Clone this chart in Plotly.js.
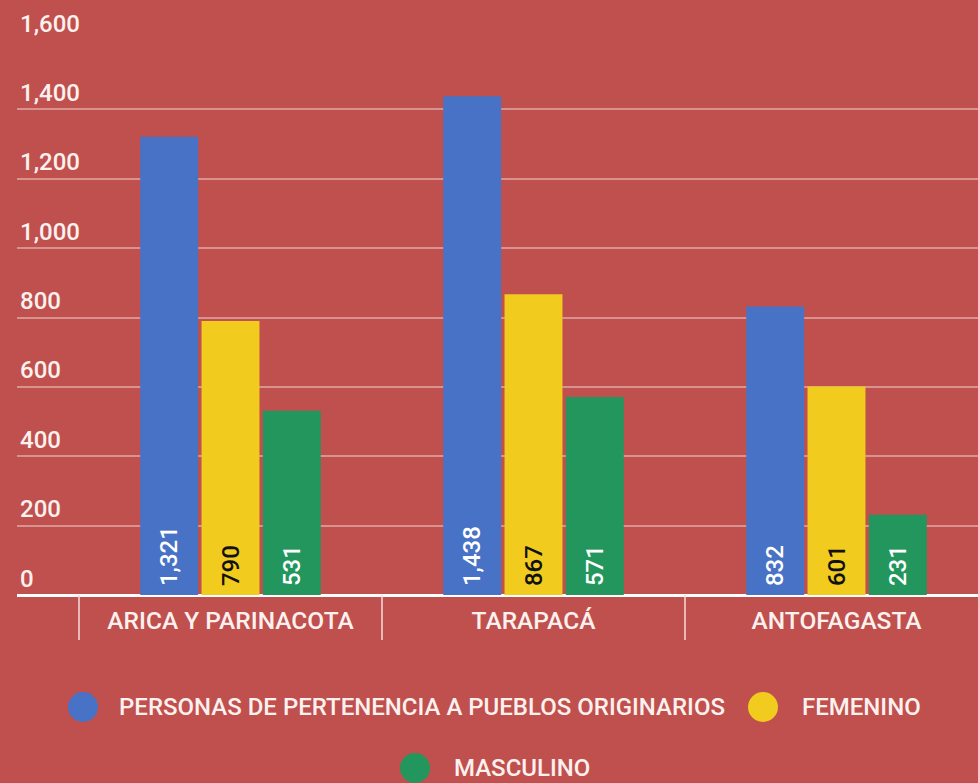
<!DOCTYPE html>
<html>
<head>
<meta charset="utf-8">
<script src="https://cdn.plot.ly/plotly-3.0.1.min.js"></script>
<style>
  html, body { margin: 0; padding: 0; background: #c0504d; }
  #chart { width: 978px; height: 783px; }
</style>
</head>
<body>
<div id="chart"></div>
<script>
const categories = ["ARICA Y PARINACOTA", "TARAPACÁ", "ANTOFAGASTA"];
const seriesNames = ["PERSONAS DE PERTENENCIA A PUEBLOS ORIGINARIOS", "FEMENINO", "MASCULINO"];
const totalValues = [1321, 1438, 832];
const femeninoValues = [790, 867, 601];
const masculinoValues = [531, 571, 231];
const yTickValues = [0, 200, 400, 600, 800, 1000, 1200, 1400, 1600];
const yTickLabels = ["0", "200", "400", "600", "800", "1,000", "1,200", "1,400", "1,600"];

const colors = ["#4872c6", "#f1cb1d", "#22965c"];
const textColors = ["#ffffff", "#111111", "#ffffff"];
const allValues = [totalValues, femeninoValues, masculinoValues];

const fmt = v => "\u00A0" + v.toLocaleString("en-US");

const traces = allValues.map((vals, i) => ({
  type: "bar",
  name: seriesNames[i],
  x: categories,
  y: vals,
  marker: { color: colors[i], line: { width: 0 } },
  text: vals.map(fmt),
  textposition: "inside",
  insidetextanchor: "start",
  textangle: -90,
  textfont: { family: "Roboto", size: 24, color: textColors[i], weight: 500 },
  constraintext: "none",
  hoverinfo: "x+y+name",
  showlegend: false,
  cliponaxis: false
}));

const W = 978, H = 783, ml = 17, mr = 0, mt = 40, mb = 188;
const pw = W - ml - mr, ph = H - mt - mb;
const px2x = p => (p - ml) / pw;
const py2y = p => (H - mb - p) / ph;

// category divider lines at category boundaries
const shapes = [];
categories.forEach((c, i) => {
  shapes.push({
    type: "line", xref: "x", yref: "paper",
    x0: i - 0.5, x1: i - 0.5, y0: 0, y1: py2y(640),
    line: { color: "#f6dcdb", width: 1.5 }
  });
});

// custom legend (large circular markers)
const legendItems = [
  { cx: 83, cy: 707, tx: 117 },
  { cx: 763, cy: 707, tx: 800 },
  { cx: 415, cy: 768, tx: 452 }
];
const annotations = [];
const R = 15;
legendItems.forEach((it, i) => {
  shapes.push({
    type: "circle", xref: "paper", yref: "paper",
    x0: px2x(it.cx - R), x1: px2x(it.cx + R),
    y0: py2y(it.cy + R), y1: py2y(it.cy - R),
    fillcolor: colors[i], line: { width: 0 }
  });
  annotations.push({
    xref: "paper", yref: "paper",
    x: px2x(it.tx), y: py2y(it.cy),
    xanchor: "left", yanchor: "middle",
    text: seriesNames[i], showarrow: false,
    font: { family: "Roboto", size: 24, color: "#fdf1ef", weight: 500 }
  });
});

const layout = {
  width: W, height: H,
  margin: { l: ml, r: mr, t: mt, b: mb, pad: 0 },
  paper_bgcolor: "#c0504d",
  plot_bgcolor: "#c0504d",
  barmode: "group",
  bargap: 0.393,
  bargroupgap: 0.055,
  showlegend: false,
  font: { family: "Roboto", color: "#fdf1ef", size: 24 },
  xaxis: {
    type: "category",
    range: [-0.5 - 62 / 303, -0.5 + (978 - 79) / 303],
    showgrid: false,
    zeroline: false,
    showline: false,
    ticks: "",
    ticklabelstandoff: 8,
    tickfont: { family: "Roboto", size: 24.5, color: "#fdf1ef", weight: 500 },
    fixedrange: true
  },
  yaxis: {
    range: [0, 1600],
    tickvals: yTickValues,
    ticktext: yTickLabels,
    ticklabelposition: "inside top",
    ticklabeloverflow: "allow",
    tickfont: { family: "Roboto", size: 24, color: "#fdf1ef", weight: 500 },
    showgrid: true,
    gridcolor: "rgba(255,255,255,0.38)",
    gridwidth: 2,
    zeroline: true,
    zerolinecolor: "#ffffff",
    zerolinewidth: 3,
    showline: false,
    ticks: "",
    fixedrange: true
  },
  shapes: shapes,
  annotations: annotations
};

Plotly.newPlot("chart", traces, layout, { displayModeBar: false, staticPlot: true });
</script>
</body>
</html>
